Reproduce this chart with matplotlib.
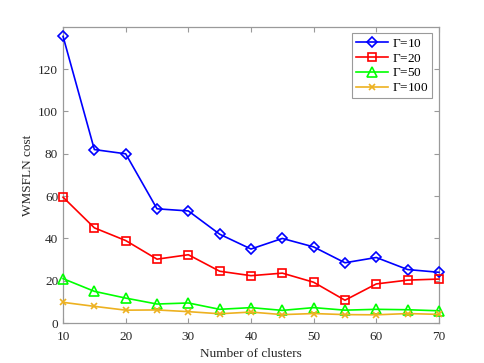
import matplotlib
matplotlib.use("Agg")
import matplotlib.pyplot as plt

plt.rcParams["font.family"] = ["Liberation Serif", "DejaVu Serif"]
plt.rcParams["mathtext.fontset"] = "custom"
plt.rcParams["mathtext.rm"] = "Liberation Serif"

GRAY, INK = "#9a9a9a", "#262626"

clusters = [10, 15, 20, 25, 30, 35, 40, 45, 50, 55, 60, 65, 70]
gamma10 = [135.5, 82, 80, 54, 53, 42, 35, 40, 36, 28.5, 31, 25.3, 24]
gamma20 = [59.5, 45, 39, 30.2, 32.3, 24.5, 22.4, 23.6, 19.3, 10.8, 18.5, 20.3, 20.8]
gamma50 = [21, 15, 11.8, 9, 9.5, 6.5, 7.3, 6, 7.3, 6.1, 6.5, 6.3, 5.8]
gamma100 = [9.8, 7.9, 6.1, 6.2, 5.4, 4.4, 5.2, 4.0, 4.5, 4.0, 3.9, 4.5, 4.1]

series = [
    (gamma10, r"$\Gamma$=10", "#0000ff", "D", 5),
    (gamma20, r"$\Gamma$=20", "#ff0000", "s", 5.5),
    (gamma50, r"$\Gamma$=50", "#00ff00", "^", 6.5),
    (gamma100, r"$\Gamma$=100", "#edb120", "x", 4.5),
]

fig = plt.figure(figsize=(4.85, 3.63), dpi=100)
ax = fig.add_axes([0.130, 0.110, 0.775, 0.816])

for vals, label, color, marker, ms in series:
    ax.plot(clusters, vals, color=color, marker=marker, markersize=ms,
            markerfacecolor="none", markeredgewidth=1.2, linewidth=1.2,
            label=label, clip_on=False, zorder=3)

ax.set_xlim(10, 70)
ax.set_ylim(0, 140)
ax.set_xticks(range(10, 71, 10))
ax.set_yticks(range(0, 121, 20))
ax.tick_params(direction="in", top=True, right=True, colors=GRAY,
               labelcolor=INK, labelsize=9.5, length=3.5, width=0.8)
ax.tick_params(axis="x", pad=6)
for side in ax.spines.values():
    side.set_color(GRAY)
    side.set_linewidth(0.9)

ax.set_xlabel("Number of clusters", fontsize=9.5, color=INK, labelpad=3)
ax.set_ylabel("WMSFLN cost", fontsize=9.5, color=INK, labelpad=3)

leg = ax.legend(loc="upper right", fontsize=9.5, fancybox=False,
                edgecolor=GRAY, framealpha=1, handlelength=2.4,
                borderpad=0.3, labelspacing=0.2, handletextpad=0.3,
                borderaxespad=0.5)
leg.get_frame().set_linewidth(0.8)

fig.savefig("out.png", dpi=100)
